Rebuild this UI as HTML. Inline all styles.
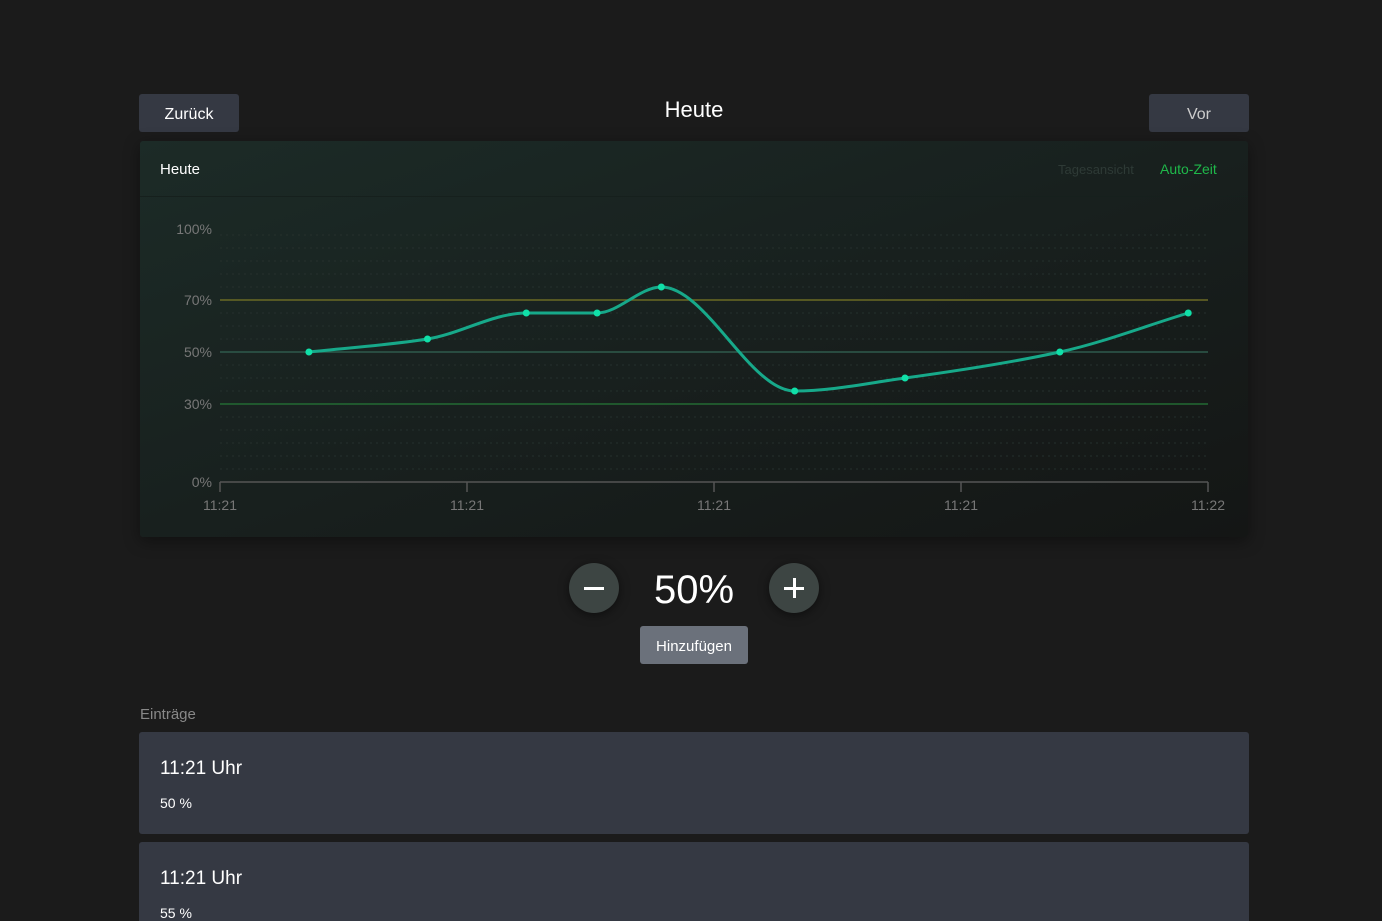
<!DOCTYPE html>
<html><head><meta charset="utf-8">
<style>
*{margin:0;padding:0;box-sizing:border-box}
html,body{width:1382px;height:921px;overflow:hidden}
body{background:#1b1b1b;font-family:"Liberation Sans","DejaVu Sans",sans-serif;color:#fff;position:relative}
.abs{position:absolute}
.btn{background:#353943;border-radius:3px;color:#fff;font-size:16px;text-align:center;line-height:42px}
.card{background:linear-gradient(160deg,#1c2b27 0%,#18201e 50%,#141615 100%);border-radius:3px;box-shadow:0 4px 16px rgba(0,0,0,.4)}
.entry{background:#353943;border-radius:3px;left:139px;width:1110px}
.round{width:50px;height:50px;border-radius:50%;background:#3d4543;box-shadow:0 2px 10px rgba(0,0,0,.5)}
</style></head><body>
<div class="abs btn" style="left:139px;top:94px;width:100px;height:38px">Zurück</div>
<div class="abs" style="left:594px;width:200px;top:97px;text-align:center;font-size:22px">Heute</div>
<div class="abs btn" style="left:1149px;top:94px;width:100px;height:38px;color:#ccc">Vor</div>

<div class="abs card" style="left:140px;top:141px;width:1108px;height:396px">
  <div class="abs" style="left:0;top:0;width:1108px;height:56px;border-bottom:1px solid #16201d"></div>
  <div class="abs" style="left:20px;top:20px;font-size:15px">Heute</div>
  <div class="abs" style="left:918px;top:21px;font-size:13px;color:#2e3a36">Tagesansicht</div>
  <div class="abs" style="left:1020px;top:20px;font-size:14px;color:#1fb84a">Auto-Zeit</div>
</div>

<svg class="abs" style="left:0;top:0" width="1382" height="560">
<g id="grid"></g><g id="axes"></g><g id="series"></g>
</svg>

<div class="abs round" style="left:569px;top:563px"><div class="abs" style="left:15px;top:24px;width:20px;height:3px;background:#fff"></div></div>
<div class="abs" style="left:614px;width:160px;top:568px;text-align:center;font-size:40px">50%</div>
<div class="abs round" style="left:769px;top:563px"><div class="abs" style="left:15px;top:24px;width:20px;height:3px;background:#fff"></div><div class="abs" style="left:24px;top:15px;width:3px;height:20px;background:#fff"></div></div>
<div class="abs" style="left:640px;top:626px;width:108px;height:38px;background:#6b717b;border-radius:3px;text-align:center;line-height:42px;font-size:15px">Hinzufügen</div>

<div class="abs" style="left:140px;top:706px;font-size:15px;color:#888">Einträge</div>
<div class="abs entry" style="top:732px;height:102px">
  <div class="abs" style="left:21px;top:26px;font-size:19px">11:21 Uhr</div>
  <div class="abs" style="left:21px;top:63px;font-size:14px">50 %</div>
</div>
<div class="abs entry" style="top:842px;height:100px">
  <div class="abs" style="left:21px;top:26px;font-size:19px">11:21 Uhr</div>
  <div class="abs" style="left:21px;top:63px;font-size:14px">55 %</div>
</div>

<script>
const times=[5.4,12.6,18.6,22.9,26.8,34.9,41.6,51.0,58.8];
const values=[50,55,65,65,75,35,40,50,65];
const yTicks=[0,30,50,70,100];
const xTickSecs=[0,15,30,45,60];
const xTickLabels=["11:21","11:21","11:21","11:21","11:22"];
const refLines=[70,50,30];
const refColors=["#6b6a24","#2f5a4c","#236a33"];

const X0=220,X1=1208,Y0=482,Y100=222;
const sx=t=>X0+(t/60)*(X1-X0);
const sy=v=>Y0-(v/100)*(Y0-Y100);
const NS="http://www.w3.org/2000/svg";
function mk(tag,attrs,parent){const e=document.createElementNS(NS,tag);for(const k in attrs)e.setAttribute(k,attrs[k]);parent.appendChild(e);return e;}
const grid=document.getElementById('grid'),axes=document.getElementById('axes'),series=document.getElementById('series');
for(let v=5;v<100;v+=5){
  const l=mk('line',{x1:X0,x2:X1,y1:sy(v),y2:sy(v),stroke:'#25302d','stroke-width':1,'stroke-dasharray':'2,4'},grid);
  
  
}
refLines.forEach((v,i)=>{
  const l=mk('line',{x1:X0,x2:X1,y1:sy(v),y2:sy(v),stroke:refColors[i],'stroke-width':1.5},grid);
  
  
});
yTicks.forEach(v=>{
  const t=mk('text',{x:212,y:sy(v)+5+(v===100?7:0),'text-anchor':'end','font-size':14,fill:'#777','font-family':'Liberation Sans, sans-serif'},axes);
  t.textContent=v+'%';
  
  
});
const ax=mk('line',{x1:X0,x2:X1,y1:Y0,y2:Y0,stroke:'#555','stroke-width':1.5},axes);


xTickSecs.forEach((s,i)=>{
  const tk=mk('line',{x1:sx(s),x2:sx(s),y1:Y0,y2:Y0+10,stroke:'#555','stroke-width':1.5},axes);
  
  
  const t=mk('text',{x:sx(s),y:Y0+28,'text-anchor':'middle','font-size':14,fill:'#777','font-family':'Liberation Sans, sans-serif'},axes);
  t.textContent=xTickLabels[i];
  
  
});
const px=times.map(sx),py=values.map(sy),n=px.length;
const d=[],m=[];
for(let i=0;i<n-1;i++)d.push((py[i+1]-py[i])/(px[i+1]-px[i]));
for(let i=0;i<n;i++){
  if(i===0)m.push(d[0]);else if(i===n-1)m.push(d[n-2]);
  else if(d[i-1]*d[i]<=0)m.push(0);
  else{const h0=px[i]-px[i-1],h1=px[i+1]-px[i];const w1=2*h1+h0,w2=h1+2*h0;m.push((w1+w2)/(w1/d[i-1]+w2/d[i]));}
}
let path=`M${px[0]},${py[0]}`;
for(let i=0;i<n-1;i++){const h=(px[i+1]-px[i])/3;path+=` C${px[i]+h},${py[i]+m[i]*h} ${px[i+1]-h},${py[i+1]-m[i+1]*h} ${px[i+1]},${py[i+1]}`;}
const ln=mk('path',{d:path,fill:'none',stroke:'#17a98a','stroke-width':3},series);


for(let i=0;i<n;i++){
  const c=mk('circle',{cx:px[i],cy:py[i],r:3.5,fill:'#10e0a8'},series);
  
  
}
</script>
</body></html>
